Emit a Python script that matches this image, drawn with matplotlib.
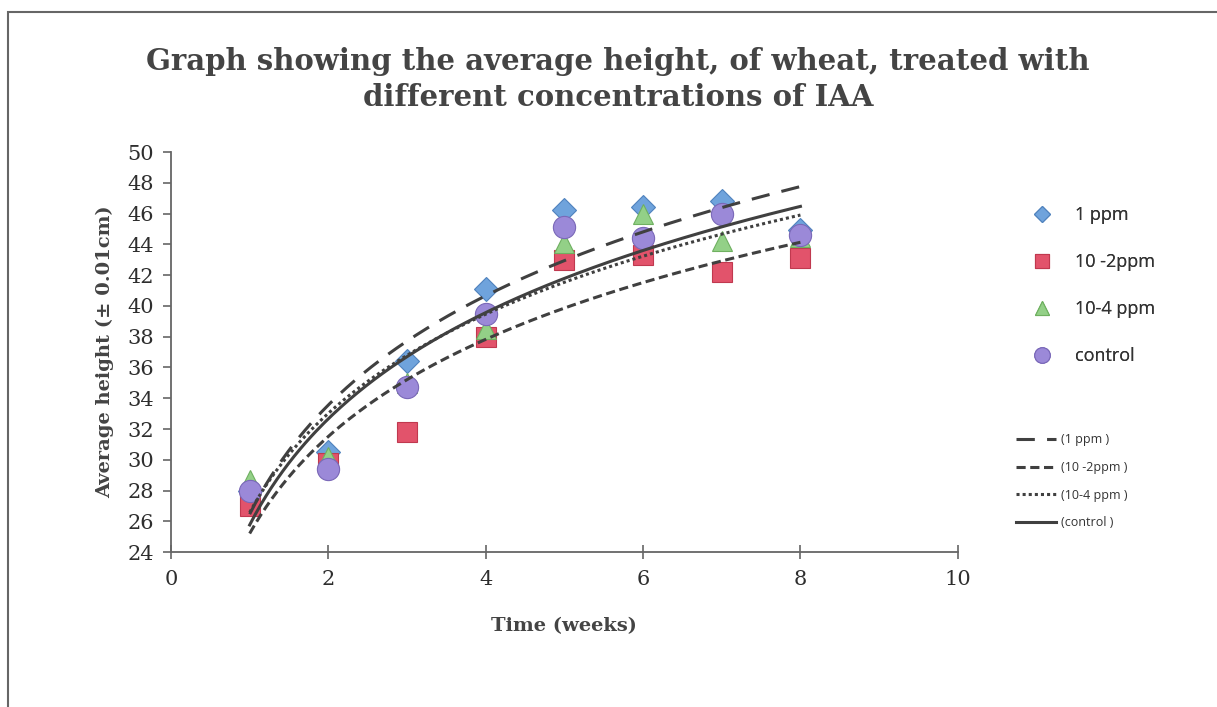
import matplotlib as mpl
mpl.use('Agg')
import matplotlib.pyplot as plt
from matplotlib.patches import Rectangle
import numpy as np

weeks = [1, 2, 3, 4, 5, 6, 7, 8]
ppm1 = [28.0, 30.5, 36.4, 41.1, 46.2, 46.4, 46.8, 44.9]
ppm10_2 = [27.0, 29.8, 31.8, 38.0, 43.0, 43.3, 42.2, 43.1]
ppm10_4 = [28.7, 30.2, 35.0, 38.5, 44.1, 46.0, 44.2, 44.5]
control = [28.0, 29.4, 34.7, 39.5, 45.1, 44.4, 46.0, 44.6]

names = ['1 ppm', '10 -2ppm', '10-4 ppm', 'control']
trend_names = ['(1 ppm )', '(10 -2ppm )', '(10-4 ppm )', '(control )']
series = [ppm1, ppm10_2, ppm10_4, control]
markers = ['D', 's', '^', 'o']
sizes = [12, 15, 15, 16]
colors = ['#6fa3dc', '#e2536b', '#93d087', '#9b89d8']
edges = ['#4f82bd', '#c0394f', '#6fb060', '#7a68b8']
styles = [(0, (6, 4)), (0, (3, 1.5)), (0, (1, 1)), '-']

fig = plt.figure(figsize=(12.17, 7.07), dpi=100)
ax = fig.add_axes([0.1405, 0.219, 0.6465, 0.566])

# frame around the whole chart
fig.patches.append(Rectangle((8 / 1217, -0.05), 1.1, 0.983 + 0.05, transform=fig.transFigure,
                             fill=False, edgecolor='#666666', linewidth=1.5))

x = np.array(weeks, dtype=float)
marker_handles = []
for vals, name, m, s, c, e in zip(series, names, markers, sizes, colors, edges):
    h, = ax.plot(x, vals, linestyle='none', marker=m, markersize=s, color=c,
                 markeredgecolor=e, markeredgewidth=0.8, label=name, zorder=3)
    marker_handles.append(h)

# logarithmic trendlines fitted to each series
xs = np.linspace(1, 8, 200)
line_handles = []
for vals, name, ls in zip(series, trend_names, styles):
    b, a = np.polyfit(np.log(x), vals, 1)
    h, = ax.plot(xs, a + b * np.log(xs), color='#404040', linestyle=ls,
                 linewidth=2.2, zorder=4, label=name)
    line_handles.append(h)

ax.set_xlim(0, 10)
ax.set_ylim(24, 50)
ax.set_xticks(range(0, 11, 2))
ax.set_yticks(range(24, 51, 2))
for side in ['top', 'right']:
    ax.spines[side].set_visible(False)
for side in ['left', 'bottom']:
    ax.spines[side].set_color('#666666')
    ax.spines[side].set_linewidth(1.3)
ax.tick_params(axis='y', direction='out', length=6, color='#666666', width=1.2,
               labelsize=15, labelcolor='#2e2e2e', pad=6)
ax.tick_params(axis='x', direction='inout', length=10, color='#666666', width=1.2,
               labelsize=15, labelcolor='#2e2e2e', pad=8)
for lab in ax.get_xticklabels() + ax.get_yticklabels():
    lab.set_family('DejaVu Serif')

ax.set_xlabel('Time (weeks)', fontsize=14, fontweight='bold', family='DejaVu Serif',
              color='#444444', labelpad=20)
ax.set_ylabel('Average height (± 0.01cm)', fontsize=14, fontweight='bold',
              family='DejaVu Serif', color='#444444', labelpad=10)

fig.text(0.508, 0.887, 'Graph showing the average height, of wheat, treated with\n'
         'different concentrations of IAA', ha='center', va='center',
         fontsize=21, fontweight='bold', family='DejaVu Serif', color='#444444',
         linespacing=1.3)

leg1 = fig.legend(handles=marker_handles, loc='upper left', bbox_to_anchor=(1015 / 1217, 1 - 190 / 707),
                  frameon=False, prop={'family': 'Open Sans', 'size': 13}, labelspacing=1.6,
                  handlelength=1.2, handletextpad=1.2, labelcolor='#333333', markerscale=0.7)
fig.add_artist(leg1)
fig.legend(handles=line_handles, loc='upper left', bbox_to_anchor=(1005 / 1217, 1 - 422 / 707),
           frameon=False, prop={'family': 'Open Sans', 'size': 9}, labelspacing=1.18,
           handlelength=3.2, handletextpad=0.4, labelcolor='#333333')

fig.savefig('out.png', dpi=100)
